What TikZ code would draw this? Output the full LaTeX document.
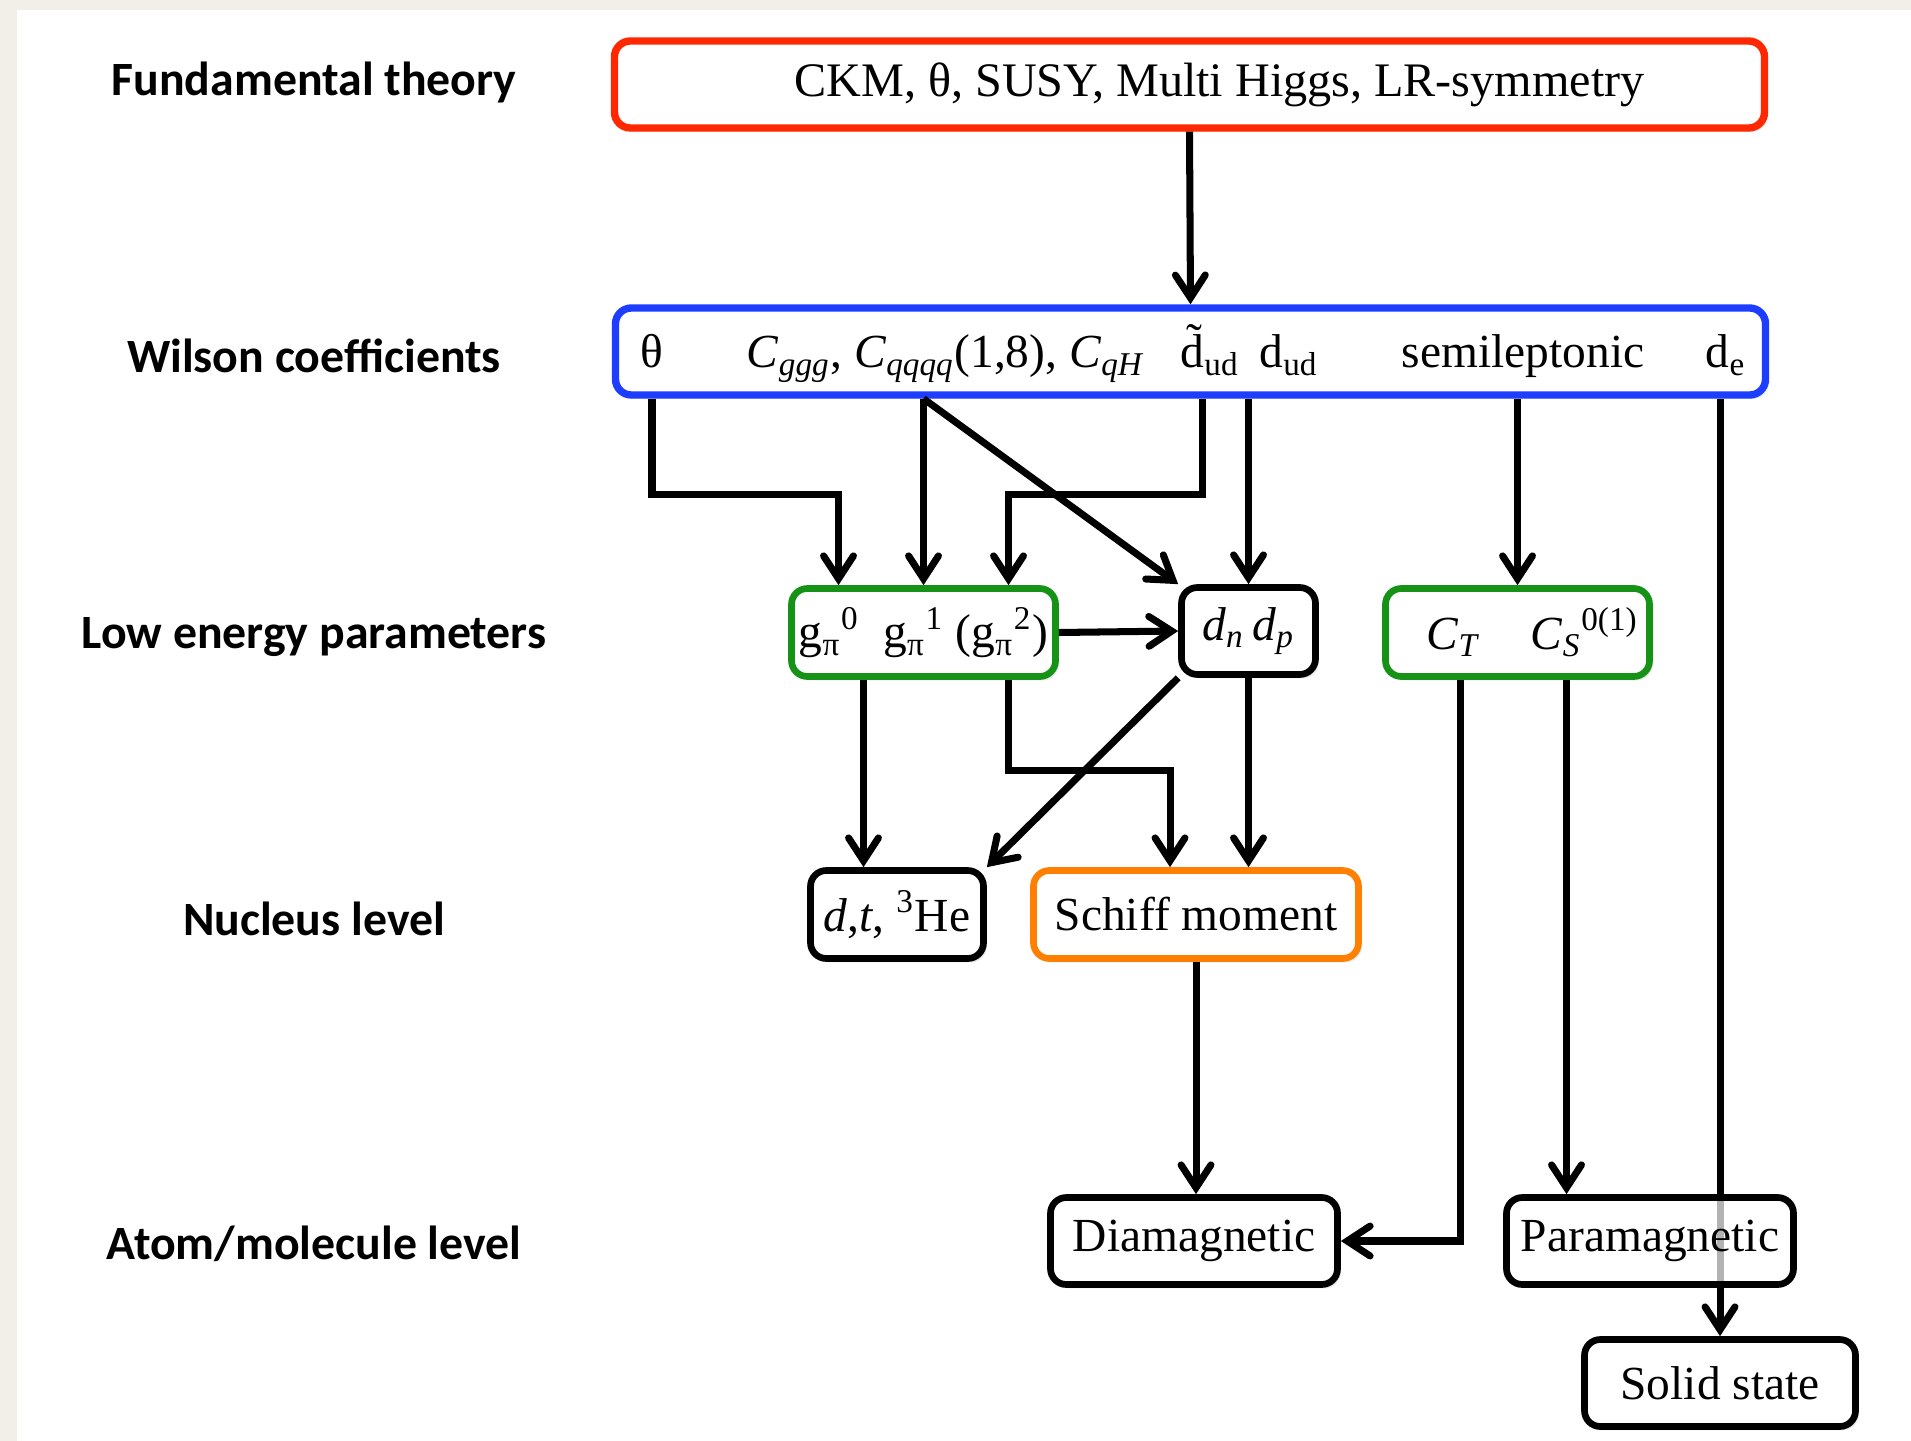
\documentclass[tikz,border=0pt]{standalone}
\usepackage{fontspec}
\setmainfont{Liberation Serif}
\newfontfamily\lblfont{Carlito}
\usetikzlibrary{arrows.meta,shadows,backgrounds}
\pgfdeclarelayer{backdrop}
\pgfsetlayers{backdrop,background,main}
\definecolor{edmred}{RGB}{255,40,0}
\definecolor{edmblue}{RGB}{30,62,255}
\definecolor{edmgreen}{RGB}{22,146,22}
\definecolor{edmorange}{RGB}{255,128,0}
\definecolor{slidebg}{RGB}{242,239,232}
\tikzset{
  edmarr/.style={-{Straight Barb[length=6.5pt,width=8.5pt,line cap=round]},line width=2pt},
  plainbox/.style={draw=black,line width=1.9pt,rounded corners=4.5pt,fill=white,align=center,inner sep=2pt},
  box/.style={plainbox,drop shadow={shadow xshift=0.9pt,shadow yshift=-1.1pt,opacity=0.18}},
  lvl/.style={font=\lblfont\bfseries\fontsize{13.6}{16}\selectfont},
  wtext/.style={anchor=base,inner sep=0pt}
}

\begin{document}
\begin{tikzpicture}[font=\fontsize{13.5}{16}\selectfont]
\useasboundingbox (0,0) rectangle (19.11,-14.41);
\begin{pgfonlayer}{backdrop}
\fill[slidebg] (0,0) rectangle (19.11,-14.41);
\fill[white] (0.17,-0.10) rectangle (19.11,-14.41);
\end{pgfonlayer}

% levels
\node[lvl] (lfund) at (3.14,-0.82) {Fundamental theory};
\node[lvl] (lwil)  at (3.14,-3.56) {Wilson coefficients};
\node[lvl] (llow)  at (3.14,-6.37) {Low energy parameters};
\node[lvl] (lnuc)  at (3.14,-9.19) {Nucleus level};
\node[lvl] (latom) at (3.14,-12.44) {Atom/molecule level};

% boxes
\node[box, draw=edmred, line width=2.1pt, minimum width=11.5cm, minimum height=0.87cm] (fund) at (11.895,-0.845)
  {\hspace*{0.6cm}\fontsize{13.7}{16}\selectfont CKM, θ, SUSY, Multi Higgs, LR-symmetry};
\node[box, draw=edmblue, line width=2.1pt, minimum width=11.5cm, minimum height=0.87cm] (wil) at (11.905,-3.515) {};
\node[wtext] (wth) at (6.52,-3.68) {θ};
\node[wtext] (wC)  at (9.46,-3.68) {\textit{C}\textsubscript{\textit{ggg}}, \textit{C}\textsubscript{\textit{qqqq}}(1,8), \textit{C}\textsubscript{\textit{qH}}};
\node[wtext] (wdt) at (12.10,-3.68) {\~{d}\textsubscript{ud}};
\node[wtext] (wd)  at (12.89,-3.68) {d\textsubscript{ud}};
\node[wtext] (wsl) at (15.23,-3.68) {semileptonic};
\node[wtext] (wde) at (17.26,-3.68) {d\textsubscript{e}};

\node[box, draw=edmgreen, minimum width=2.64cm, minimum height=0.88cm] (gpi) at (9.235,-6.325)
  {g\textsubscript{π}\textsuperscript{0}\ \ g\textsubscript{π}\textsuperscript{1} (g\textsubscript{π}\textsuperscript{2})};
\node[box, minimum width=1.34cm, minimum height=0.87cm] (dnp) at (12.485,-6.31)
  {\textit{d}\textsubscript{\textit{n}}\,\textit{d}\textsubscript{\textit{p}}};
\node[box, draw=edmgreen, minimum width=2.64cm, minimum height=0.88cm] (cts) at (15.175,-6.325)
  {\hspace{0.3cm}\textit{C}\textsubscript{\textit{T}}\hspace{0.5cm}\textit{C}\textsubscript{\textit{S}}\textsuperscript{0(1)}};

\node[box, minimum width=1.73cm, minimum height=0.88cm] (dth) at (8.97,-9.145)
  {\textit{d},\textit{t}, \textsuperscript{3}He};
\node[box, draw=edmorange, minimum width=3.25cm, minimum height=0.88cm] (schiff) at (11.96,-9.145) {Schiff moment};

\node[box, minimum width=2.87cm, minimum height=0.87cm] (dia) at (11.94,-12.41) {Diamagnetic};
\node[plainbox, minimum width=2.87cm, minimum height=0.87cm, fill opacity=0.7, text opacity=1] (para) at (16.5,-12.41) {Paramagnetic};
\node[box, minimum width=2.71cm, minimum height=0.87cm] (solid) at (17.2,-13.83) {Solid state};

% connectors
\begin{scope}[on background layer]
\draw[edmarr] (solid.north |- wil.south) -- (solid.north);
\end{scope}
\draw[edmarr] (fund.south) -- (wil.north);
\draw[edmarr] (wth |- wil.south) -- ++(0,-0.96) -| ([xshift=-0.85cm]gpi.north);
\draw[edmarr] (gpi.north |- wil.south) -- (gpi.north);
\draw[edmarr] (gpi.north |- wil.south) -- (dnp.north west);
\draw[edmarr] ([xshift=-0.08cm]wdt.south |- wil.south) -- ++(0,-0.96) -| ([xshift=0.85cm]gpi.north);
\draw[edmarr] (dnp.north |- wil.south) -- (dnp.north);
\draw[edmarr] (cts.north |- wil.south) -- (cts.north);

\draw[edmarr] (gpi.east) -- (dnp.west);
\draw[edmarr] ([xshift=-0.6cm]gpi.south) -- ([xshift=-0.6cm]gpi.south |- dth.north);
\draw[edmarr] ([xshift=0.85cm]gpi.south) -- ++(0,-0.91) -| ([xshift=-0.26cm]schiff.north);
\draw[edmarr] (dnp.south west) -- (dth.north east);
\draw[edmarr] (dnp.south) -- (dnp.south |- schiff.north);

\draw[edmarr] ([xshift=-0.57cm]cts.south) |- (dia.east);
\draw[edmarr] ([xshift=0.49cm]cts.south) -- ([xshift=0.49cm]cts.south |- para.north);
\draw[edmarr] (schiff.south) -- (schiff.south |- dia.north);
\end{tikzpicture}
\end{document}
